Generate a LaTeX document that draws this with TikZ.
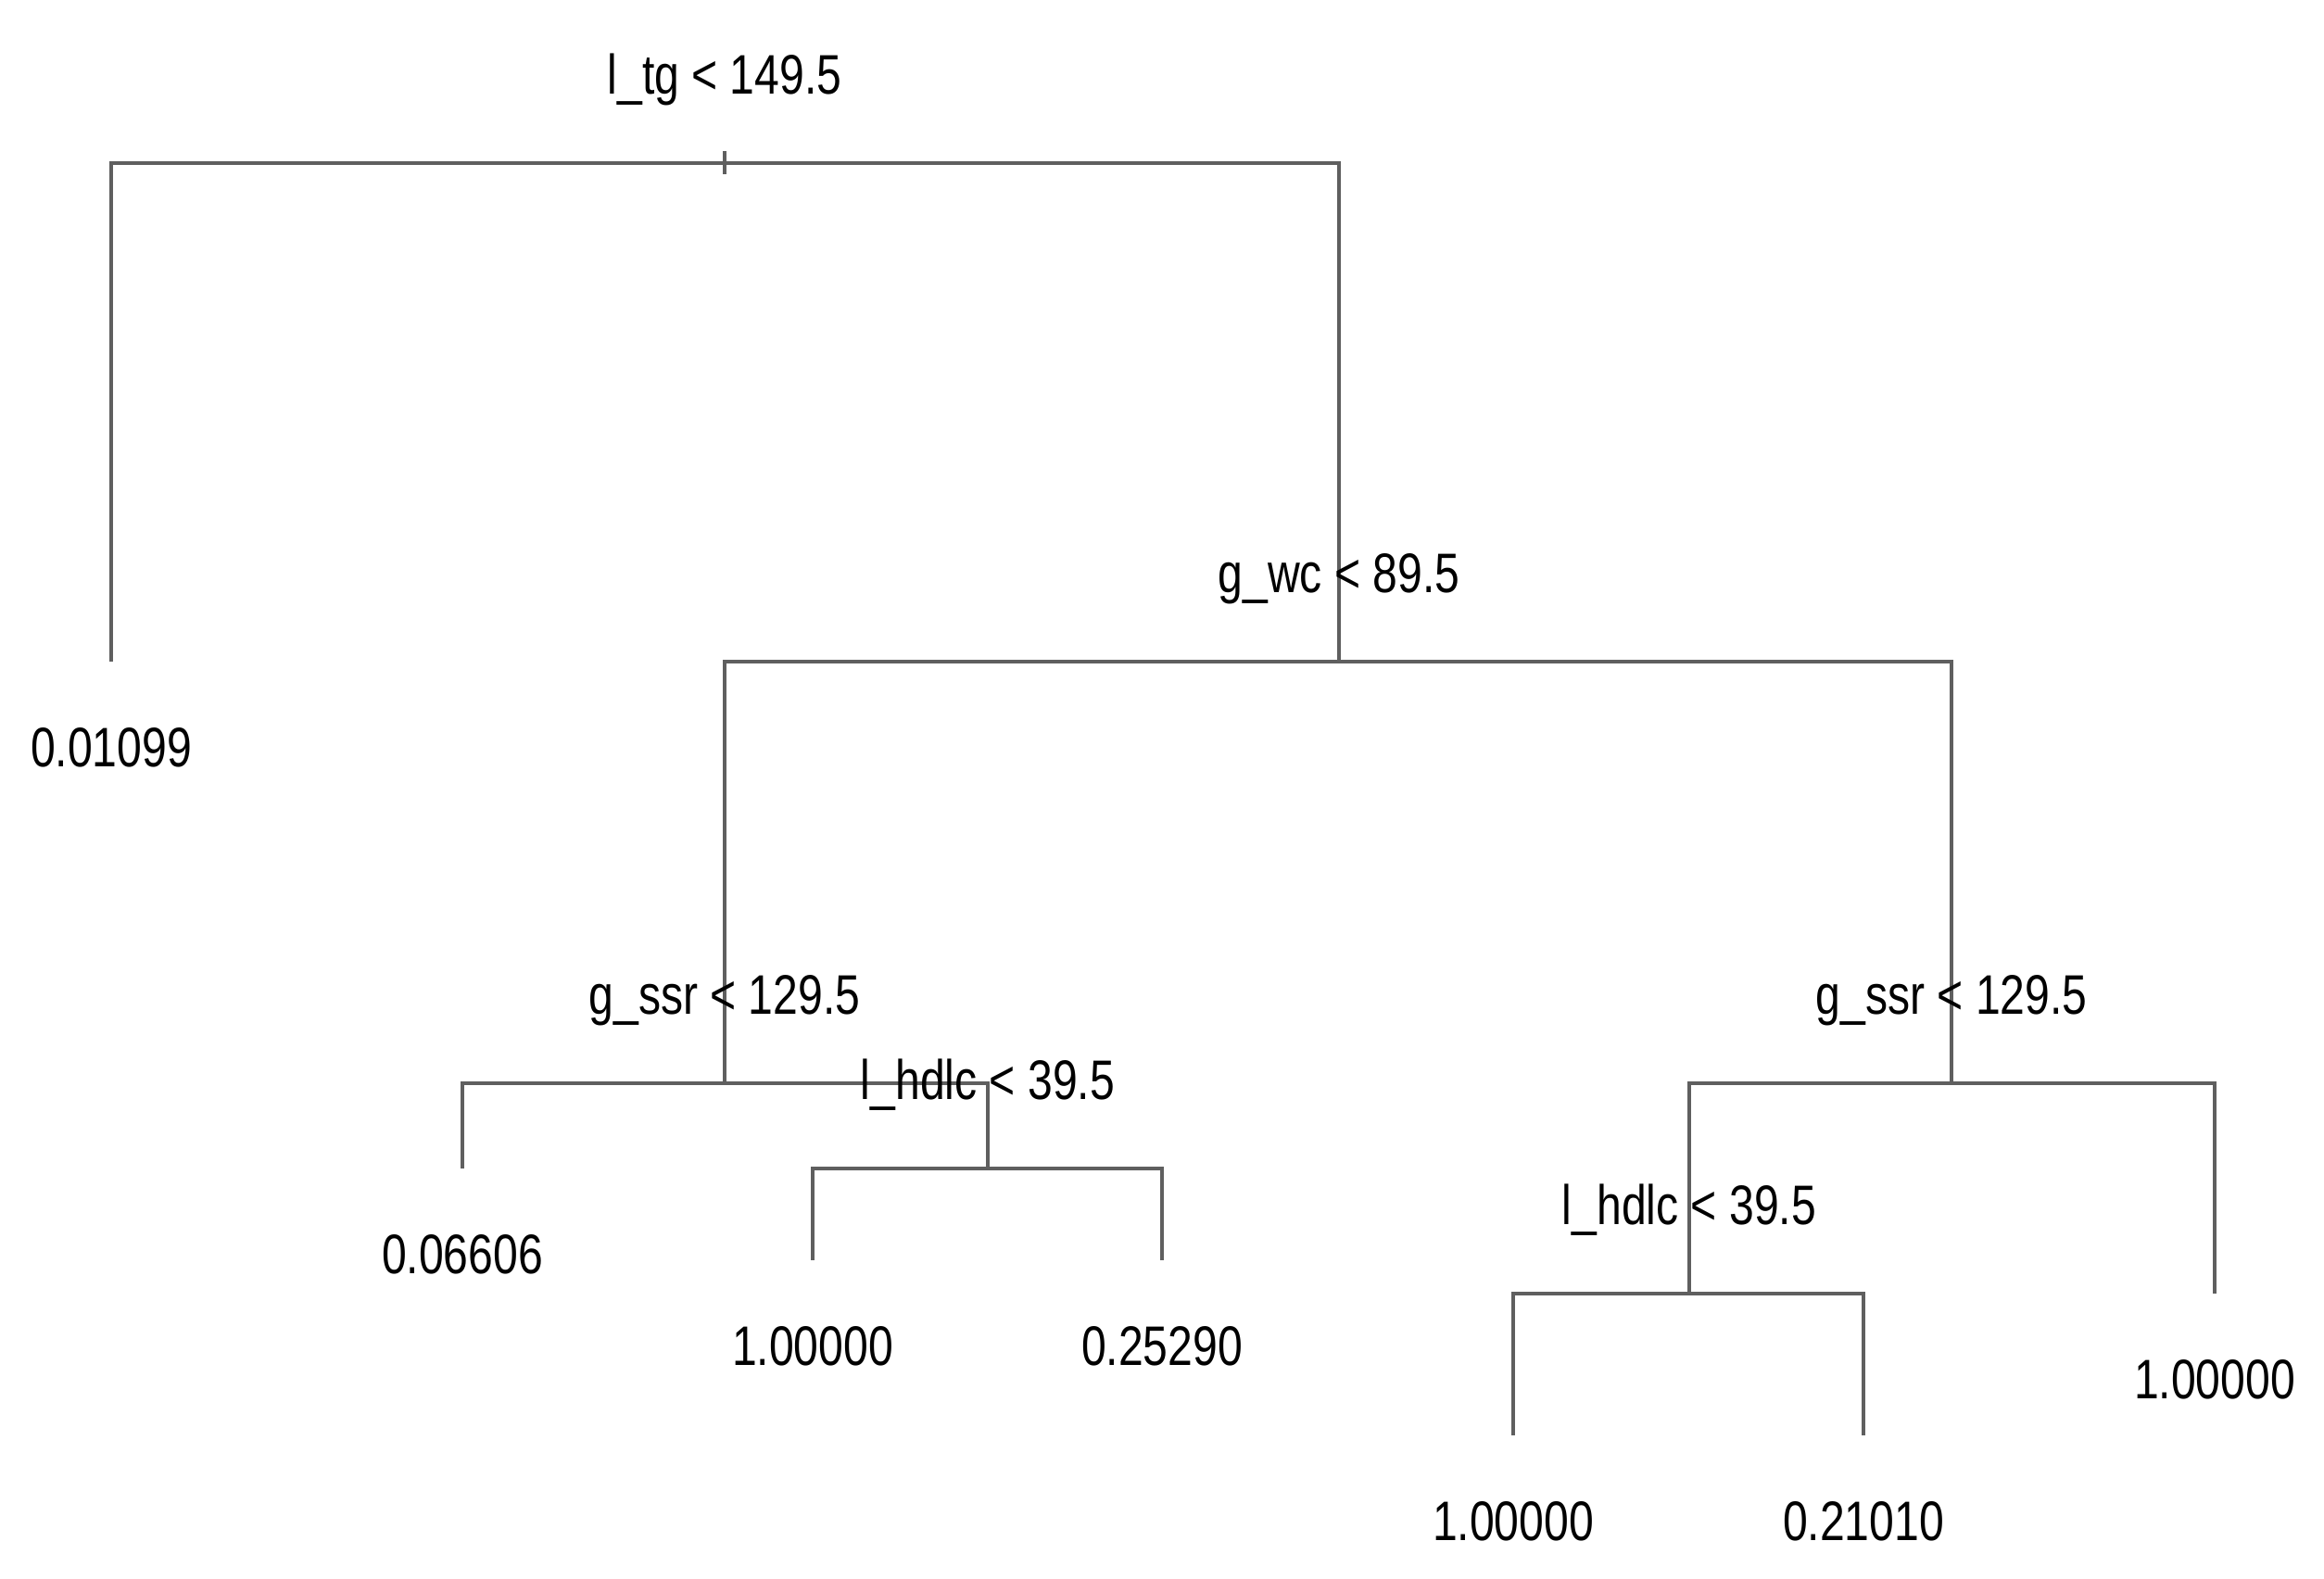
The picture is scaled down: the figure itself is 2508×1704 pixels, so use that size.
\documentclass[tikz,border=0pt]{standalone}
\usepackage{fontspec}
\setmainfont{Liberation Sans}[FakeStretch=0.8]
\definecolor{linegray}{RGB}{95,95,95}
\begin{document}
\begin{tikzpicture}[x=0.01cm,y=-0.01cm,
  edge/.style={draw=linegray,line width=0.9pt},
  lab/.style={anchor=base,inner sep=0pt,font=\fontsize{17.1pt}{20pt}\selectfont,text=black}]
\useasboundingbox (0,0) rectangle (2508,1704);
% split points and leaf ends
\coordinate (n1) at (782,176);
\coordinate (L1) at (120,714);
\coordinate (n2) at (1445,714);
\coordinate (n3) at (782,1169);
\coordinate (L2) at (499,1261);
\coordinate (n4) at (1066,1261);
\coordinate (L3) at (877,1360);
\coordinate (L4) at (1254,1360);
\coordinate (n5) at (2106,1169);
\coordinate (n6) at (1823,1396);
\coordinate (L7) at (2390,1396);
\coordinate (L5) at (1633,1549);
\coordinate (L6) at (2011,1549);
% edges
\draw[edge] (n1) -| (L1);
\draw[edge] (n1) -| (n2);
\draw[edge] ([yshift=0.13cm]n1) -- ([yshift=-0.12cm]n1);
\draw[edge] (n2) -| (n3);
\draw[edge] (n2) -| (n5);
\draw[edge] (n3) -| (L2);
\draw[edge] (n3) -| (n4);
\draw[edge] (n4) -| (L3);
\draw[edge] (n4) -| (L4);
\draw[edge] (n5) -| (n6);
\draw[edge] (n5) -| (L7);
\draw[edge] (n6) -| (L5);
\draw[edge] (n6) -| (L6);
% split labels
\node[lab] (t1) at ([yshift=0.74cm]n1) {l\_tg < 149.5};
\node[lab] (t2) at ([yshift=0.74cm]n2) {g\_wc < 89.5};
\node[lab] (t3) at ([yshift=0.74cm]n3) {g\_ssr < 129.5};
\node[lab] (t4) at ([yshift=0.74cm]n4) {l\_hdlc < 39.5};
\node[lab] (t5) at ([yshift=0.74cm]n5) {g\_ssr < 129.5};
\node[lab] (t6) at ([yshift=0.74cm]n6) {l\_hdlc < 39.5};
% leaf labels
\node[lab] (v1) at ([yshift=-1.13cm]L1) {0.01099};
\node[lab] (v2) at ([yshift=-1.13cm]L2) {0.06606};
\node[lab] (v3) at ([yshift=-1.13cm]L3) {1.00000};
\node[lab] (v4) at ([yshift=-1.13cm]L4) {0.25290};
\node[lab] (v5) at ([yshift=-1.13cm]L5) {1.00000};
\node[lab] (v6) at ([yshift=-1.13cm]L6) {0.21010};
\node[lab] (v7) at ([yshift=-1.13cm]L7) {1.00000};
\end{tikzpicture}
\end{document}
